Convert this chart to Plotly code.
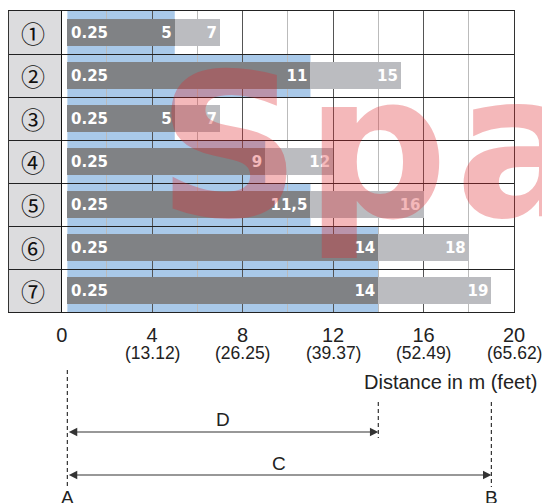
import plotly.graph_objects as go

# ---------------- data ----------------
rows = ["①", "②", "③", "④", "⑤", "⑥", "⑦"]
start_m = [0.25, 0.25, 0.25, 0.25, 0.25, 0.25, 0.25]
dark_end = [5, 11, 5, 9, 11, 14, 14]
dark_labels = ["5", "11", "5", "9", "11,5", "14", "14"]
light_end = [7, 15, 7, 12, 16, 18, 19]
tick_m = [0, 4, 8, 12, 16, 20]
tick_ft = ["", "(13.12)", "(26.25)", "(39.37)", "(52.49)", "(65.62)"]
minor_m = [2, 6, 10, 14, 18]
dim_start = 0.25
dim_D = 14
dim_C = 19
axis_title = "Distance in m (feet)"

# ---------------- layout constants ----------------
W, H = 542, 503
ML, MR, MT, MB = 9, 28, 11, 191
X_LEFT, X_RIGHT = -2.33, 20
PLOT_H = H - MT - MB
PLOT_W = W - ML - MR


def py(p):
    """pixel row -> paper y"""
    return (H - MB - p) / PLOT_H


def px(p):
    """pixel column -> paper x"""
    return (p - ML) / PLOT_W


BLUE = "#a9c9e9"
DARK = "#808285"
LIGHT = "#bbbcc0"
NUMFONT = "DejaVu Sans"
AXFONT = "Liberation Sans"

idx = list(range(len(rows)))

fig = go.Figure()

fig.add_trace(go.Bar(
    y=idx, x=[d - s for d, s in zip(dark_end, start_m)], base=start_m,
    orientation="h", width=0.63,
    marker=dict(color=DARK, line=dict(width=0)),
    text=dark_labels, textposition="inside", insidetextanchor="end",
    textangle=0, constraintext="none",
    textfont=dict(color="white", size=15, family=NUMFONT, weight="bold"),
    hoverinfo="skip", showlegend=False,
))
fig.add_trace(go.Bar(
    y=idx, x=[l - d for l, d in zip(light_end, dark_end)], base=dark_end,
    orientation="h", width=0.63,
    marker=dict(color=LIGHT, line=dict(width=0)),
    text=[str(v) for v in light_end], textposition="inside", insidetextanchor="end",
    textangle=0, constraintext="none",
    textfont=dict(color="white", size=15, family=NUMFONT, weight="bold"),
    hoverinfo="skip", showlegend=False,
))

shapes = []
# label column background
shapes.append(dict(type="rect", xref="x", yref="paper", x0=X_LEFT, x1=0, y0=0, y1=1,
                   fillcolor="#dcdcde", line=dict(width=0), layer="below"))
# blue range bands (below gridlines)
for i in idx:
    shapes.append(dict(type="rect", xref="x", yref="y", x0=start_m[i], x1=dark_end[i],
                       y0=i - 0.5, y1=i + 0.5, fillcolor=BLUE, line=dict(width=0),
                       layer="below"))
# dashed dimension lines
dash_style = dict(color="#333", width=1.2, dash="4px,3px")
shapes.append(dict(type="line", xref="x", yref="paper", x0=dim_start, x1=dim_start,
                   y0=py(370), y1=py(487), line=dash_style))
shapes.append(dict(type="line", xref="x", yref="paper", x0=dim_D, x1=dim_D,
                   y0=py(402), y1=py(438), line=dash_style))
shapes.append(dict(type="line", xref="x", yref="paper", x0=dim_C, x1=dim_C,
                   y0=py(402), y1=py(487), line=dash_style))

ann = []
# row labels
for i, r in enumerate(rows):
    ann.append(dict(x=-1.28, y=i, xref="x", yref="y", text=r, showarrow=False,
                    font=dict(family="Noto Sans CJK JP", size=24, color="#111")))
    ann.append(dict(x=start_m[i], y=i, xref="x", yref="y", text=f"{start_m[i]:.2f}",
                    showarrow=False, xanchor="left", xshift=2,
                    font=dict(family=NUMFONT, size=15, color="white", weight="bold")))
# feet tick labels
for v, t in zip(tick_m, tick_ft):
    if t:
        ann.append(dict(x=v, y=py(353), xref="x", yref="paper", text=t, showarrow=False,
                        yanchor="middle",
                        font=dict(family=AXFONT, size=17.5, color="#222")))
# axis title
ann.append(dict(x=px(539), y=py(382), xref="paper", yref="paper", text=axis_title,
                showarrow=False, xanchor="right", yanchor="middle",
                font=dict(family=AXFONT, size=20, color="#222")))
# dimension arrows
for end, yy in [(dim_D, py(432)), (dim_C, py(475))]:
    ann.append(dict(x=end, y=yy, xref="x", yref="paper", ax=dim_start, ay=0,
                    axref="x", ayref="pixel", text="", showarrow=True,
                    arrowhead=2, startarrowhead=2, arrowside="end+start",
                    arrowsize=1.4, arrowwidth=1.2, arrowcolor="#333",
                    standoff=0, startstandoff=0))
lbl = dict(family=AXFONT, size=19, color="#222")
ann.append(dict(x=(dim_start + dim_D) / 2, y=py(419), xref="x", yref="paper", text="D",
                showarrow=False, yanchor="middle", font=lbl))
ann.append(dict(x=(dim_start + dim_C) / 2, y=py(463), xref="x", yref="paper", text="C",
                showarrow=False, yanchor="middle", font=lbl))
ann.append(dict(x=dim_start, y=py(497), xref="x", yref="paper", text="A",
                showarrow=False, yanchor="middle", font=lbl))
ann.append(dict(x=dim_C, y=py(497), xref="x", yref="paper", text="B",
                showarrow=False, yanchor="middle", font=lbl))
# watermark
wm = dict(family="DejaVu Sans", size=200, color="rgba(222,40,45,0.33)", weight="bold")
for ch, cx in [("S", 229), ("p", 376), ("a", 522)]:
    ann.append(dict(x=px(cx), y=py(146), xref="paper", yref="paper", text=ch,
                    showarrow=False, xanchor="center", yanchor="middle", font=wm))

fig.update_layout(
    width=W, height=H,
    margin=dict(l=ML, r=MR, t=MT, b=MB, pad=0),
    paper_bgcolor="white", plot_bgcolor="white",
    barmode="overlay", bargap=0,
    showlegend=False,
    shapes=shapes, annotations=ann,
    xaxis=dict(
        range=[X_LEFT, X_RIGHT], tickmode="array", tickvals=tick_m,
        ticktext=[str(v) for v in tick_m],
        showgrid=True, gridcolor="#555", gridwidth=1,
        minor=dict(tickmode="array", tickvals=minor_m, showgrid=True,
                   gridcolor="#bbb", gridwidth=1, ticks=""),
        zeroline=True, zerolinecolor="#111", zerolinewidth=1.5,
        showline=True, mirror=True, linecolor="#222", linewidth=1,
        ticks="", ticklabelstandoff=5,
        tickfont=dict(family=AXFONT, size=20, color="#222"),
        fixedrange=True,
    ),
    yaxis=dict(
        range=[6.5, -0.5], tickmode="array", tickvals=[i + 0.5 for i in idx[:-1]],
        showticklabels=False, showgrid=True, gridcolor="#222", gridwidth=1,
        zeroline=False, showline=True, mirror=True, linecolor="#333", linewidth=1,
        ticks="", fixedrange=True,
    ),
)

fig.write_html("out.html", config={"displayModeBar": False, "staticPlot": True},
               post_script="document.body.style.margin='0';document.body.style.overflow='hidden';")
